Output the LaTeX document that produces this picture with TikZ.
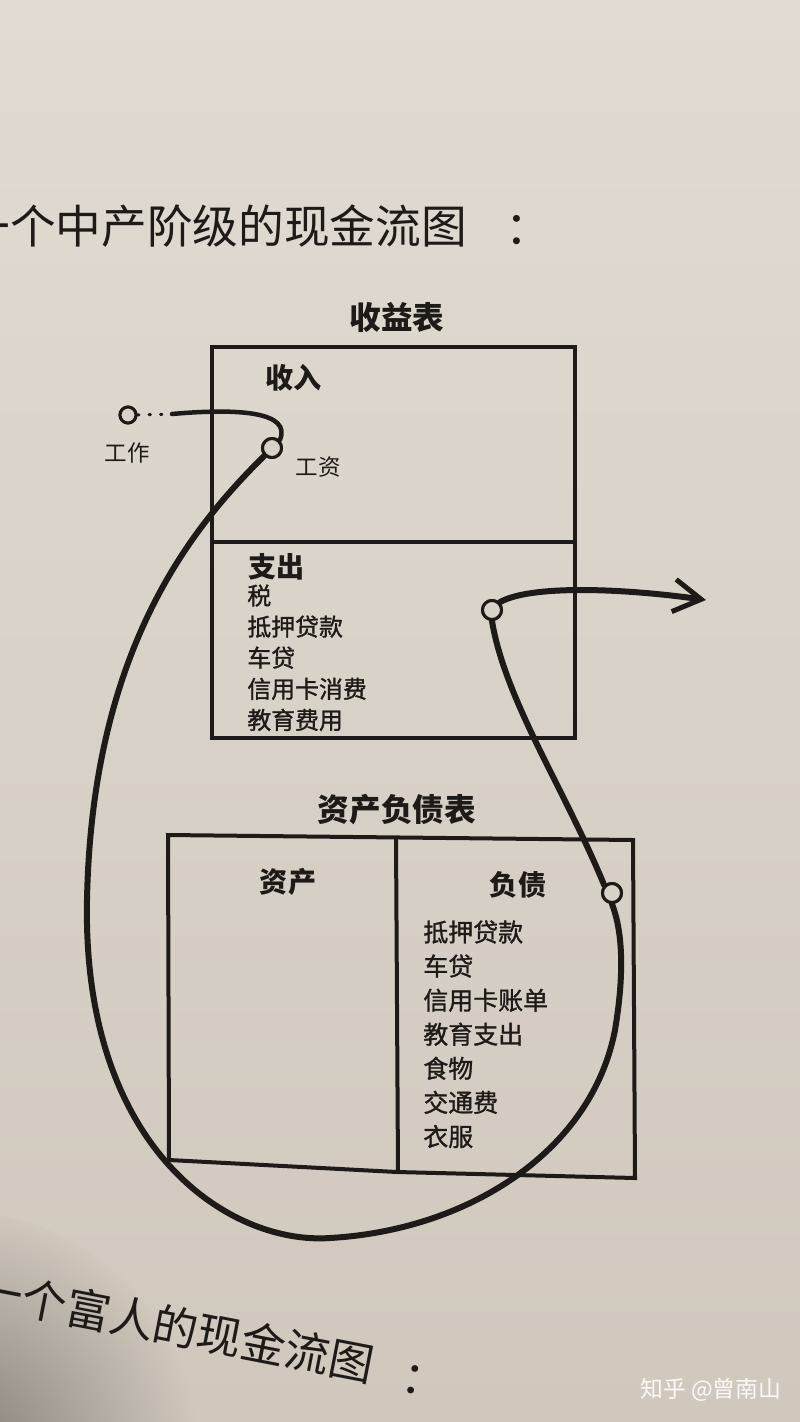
\documentclass[tikz,border=0pt]{standalone}
\usepackage{fontspec}
\usetikzlibrary{arrows.meta}
\newfontfamily\cjk{Noto Sans CJK SC}
\newfontfamily\cjkm[FakeBold=1.2]{Noto Sans CJK SC}
\definecolor{papertop}{RGB}{225,219,211}
\definecolor{paperbot}{RGB}{208,200,189}
\definecolor{paper}{RGB}{217,210,200}
\definecolor{ink}{RGB}{30,26,24}
\tikzset{
  boxline/.style={draw=ink, line width=0.08cm, line join=miter},
  flow/.style={draw=ink, line width=0.12cm, line cap=round},
  port/.style={circle, draw=ink, fill=paper, line width=0.06cm, inner sep=0pt, minimum size=0.38cm},
  title/.style={text=ink, inner sep=0pt, font={\cjk\fontsize{26}{30}\selectfont}},
  head/.style={text=ink, inner sep=0pt, font={\cjk\bfseries\fontsize{18}{22}\selectfont}},
  sub/.style={text=ink, inner sep=0pt, font={\cjk\bfseries\fontsize{16}{20}\selectfont}},
  lbl/.style={text=ink, inner sep=0pt, font={\cjk\fontsize{12.8}{16}\selectfont}},
}
\begin{document}
\begin{tikzpicture}[x=0.02cm,y=-0.02cm]
\useasboundingbox (0,0) rectangle (800,1422);
\shade[top color=papertop, bottom color=paperbot] (0,0) rectangle (800,1422);
\begin{scope}
  \clip (0,1150) rectangle (400,1422);
  \shade[inner color=paperbot!62!black, outer color=paperbot] (-50,1460) circle (250);
\end{scope}

% titles
\node[title, anchor=west] (t1) at (-36,226) {一个中产阶级的现金流图};
\node[title, anchor=center] (t1c) at (528,230) {：};
\node[title, anchor=west, rotate=-11, font={\cjk\fontsize{25.5}{30}\selectfont}] (t2) at (-22,1288) {一个富人的现金流图};
\node[title, anchor=center, rotate=-11, font={\cjk\fontsize{25.5}{30}\selectfont}] (t2c) at (424,1382) {：};

% income statement
\node[head] (inctitle) at (397,318) {收益表};
\draw[boxline] (212,347) rectangle (575,738);
\draw[boxline] (212,542) -- (575,542);
\node[sub, anchor=west] (income) at (265,378) {收入};
\node[sub, anchor=west] (expense) at (248,567) {支出};
\node[anchor=base west, align=left, text=ink, inner sep=0pt,
      font={\cjkm\fontsize{13.6}{17.7}\selectfont}] (explist) at (247,729)
      {税\\抵押贷款\\车贷\\信用卡消费\\教育费用};

% balance sheet
\node[head] (bstitle) at (397,810) {资产负债表};
\draw[boxline] (168,835) -- (633,840) -- (635,1178) -- (397,1172) -- (169,1160) -- cycle;
\draw[boxline] (396,838) -- (398,1172);
\node[sub] (assets) at (288,882) {资产};
\node[sub] (liab) at (518,885) {负债};
\node[anchor=base west, align=left, text=ink, inner sep=0pt,
      font={\cjkm\fontsize{14.2}{19.4}\selectfont}] (liablist) at (423,1146)
      {抵押贷款\\车贷\\信用卡账单\\教育支出\\食物\\交通费\\衣服};

% ports
\node[port, minimum size=0.32cm] (work) at (128,415) {};
\node[lbl] (worklbl) at (127,453) {工作};
\node[port] (wage) at (272,448) {};
\node[lbl] (wagelbl) at (318,467) {工资};
\node[port] (exp) at (492,610) {};
\node[port] (debt) at (612,893) {};
\coordinate (dotend) at (172,414);
\coordinate (arrowend) at (706,600);

% flows
\draw[ink, line width=0.06cm, dash pattern=on 0.03cm off 0.2cm, line cap=round] (work.east) -- (dotend);
\draw[flow, line width=0.09cm] (dotend) .. controls (240,408) and (292,412) .. (wage.north east);
\draw[flow] (wage.225) .. controls (200,520) and (92,640) .. (87,900)
   .. controls (82,1150) and (230,1245) .. (330,1238)
   .. controls (470,1230) and (592,1150) .. (615,1030)
   .. controls (625,970) and (622,930) .. (debt.south);
\draw[flow] (exp.south) .. controls (505,700) and (565,790) .. (debt.north west);
\draw[flow, -{Straight Barb[length=0.55cm,width=0.65cm,line width=0.1cm]}]
   (exp.north east) .. controls (530,585) and (620,588) .. (arrowend);

% redraw ports on top
\node[port, minimum size=0.32cm] at (work) {};
\node[port] at (wage) {};
\node[port] at (exp) {};
\node[port] at (debt) {};

% watermark
\node[text=white, opacity=0.9, inner sep=0pt, anchor=west,
      font={\cjk\fontsize{13}{16}\selectfont}] (wm) at (640,1390) {知乎 @曾南山};
\end{tikzpicture}
\end{document}
